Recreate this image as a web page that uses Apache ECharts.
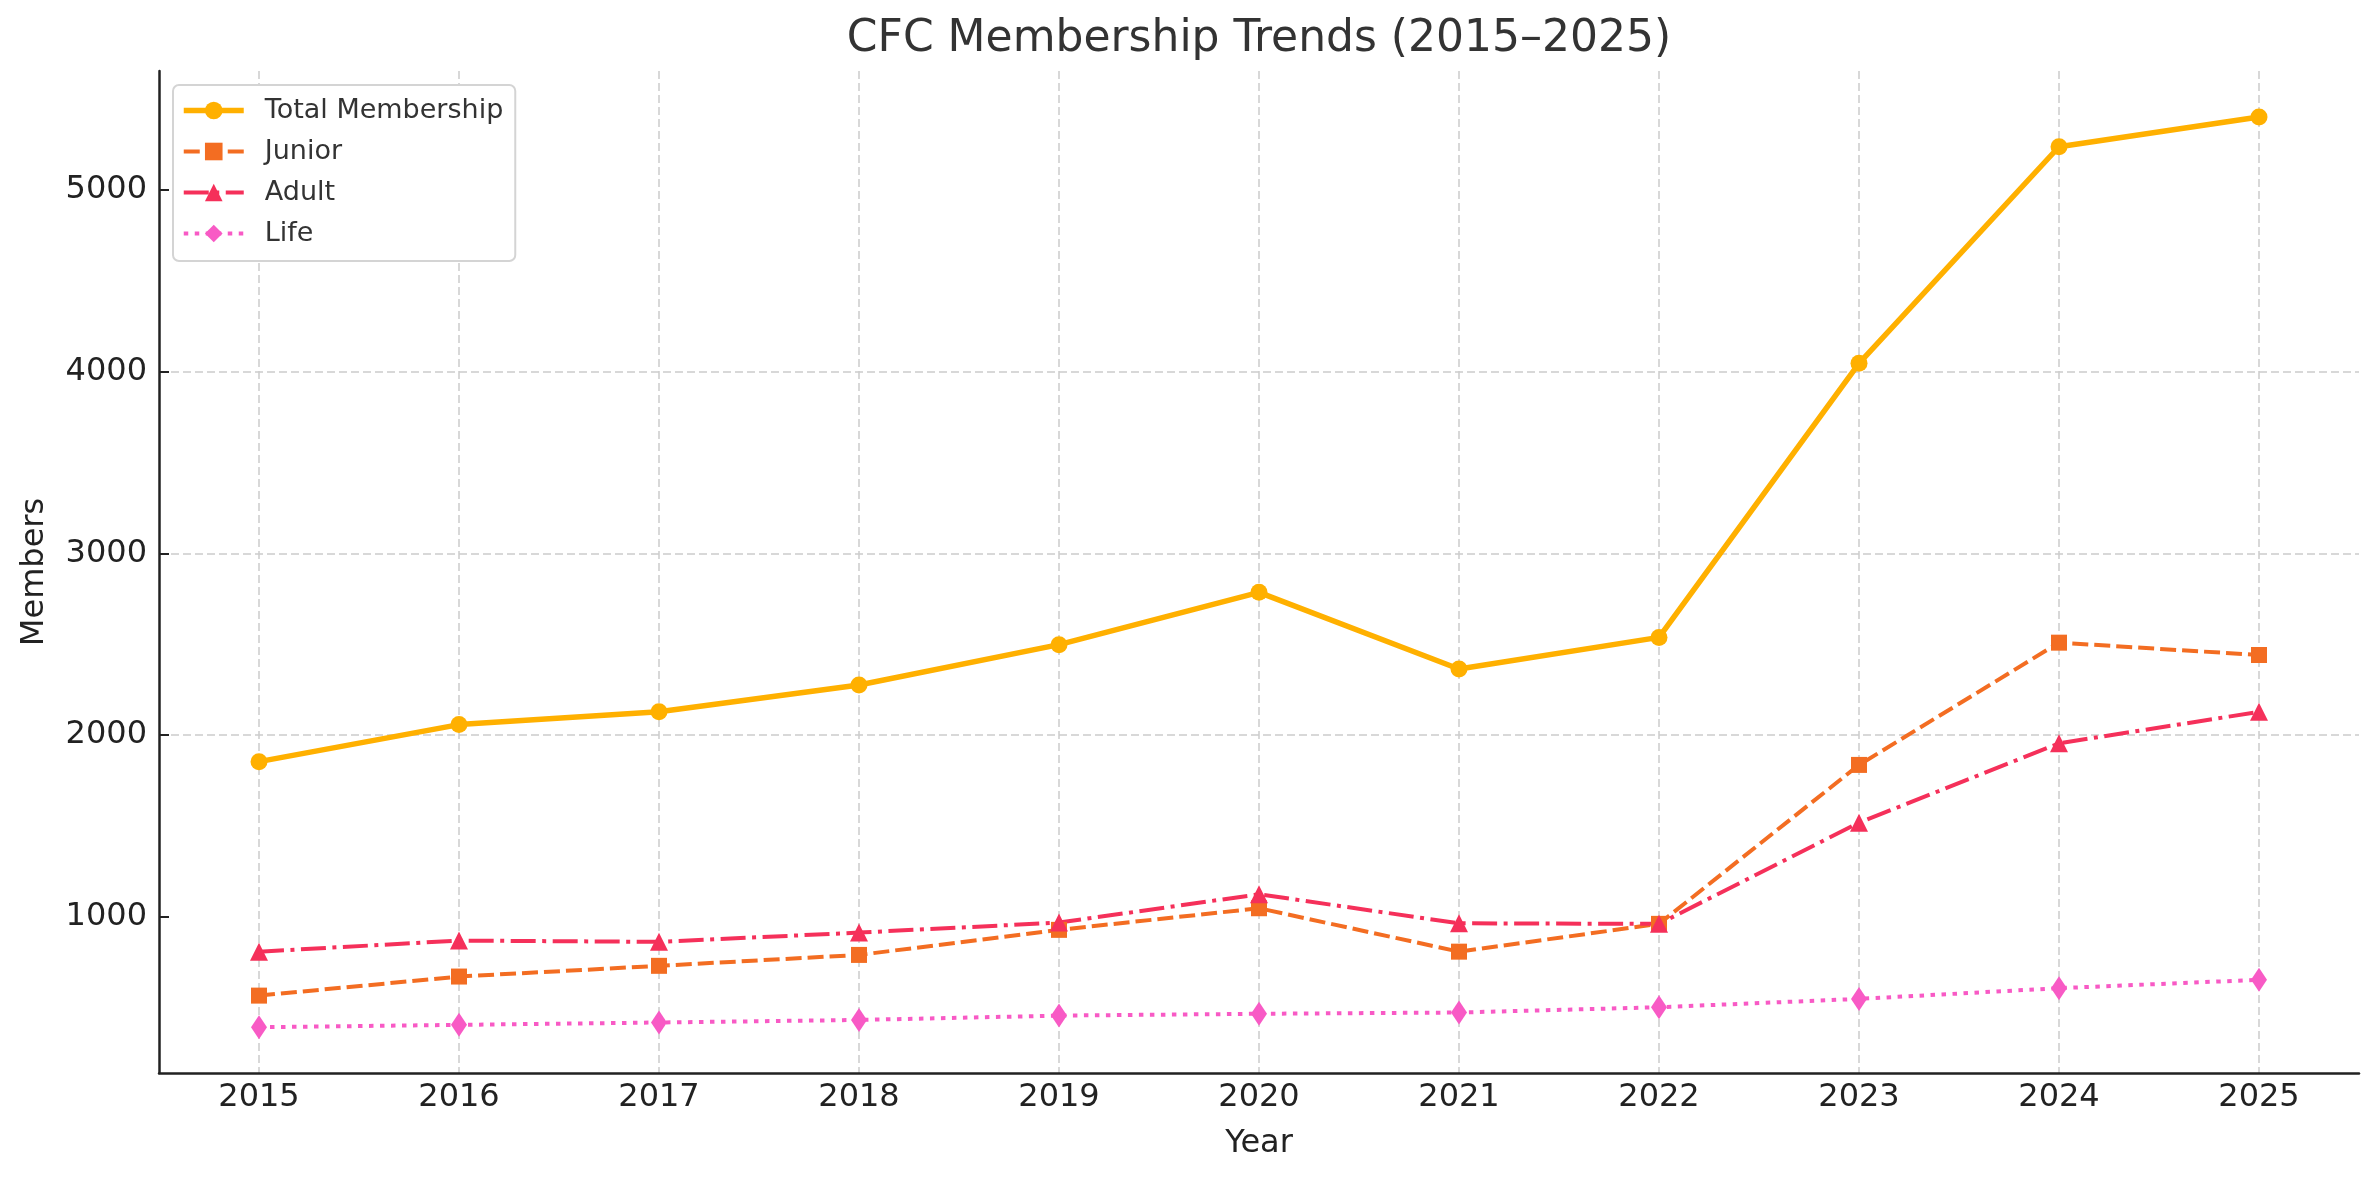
<!DOCTYPE html>
<html>
<head>
<meta charset="utf-8">
<title>CFC Membership Trends</title>
<script src="https://cdn.jsdelivr.net/npm/echarts@6/dist/echarts.min.js"></script>
<style>
	html, body {margin: 0; padding: 0; background: #fff;}
	#chart {width: 2379px; height: 1180px;}
</style>
</head>
<body>
<div id="chart"></div>
<script>
// 年份 (x轴)
var years = ['2015', '2016', '2017', '2018', '2019', '2020', '2021', '2022', '2023', '2024', '2025'];
// 各类会员数
var totalData = [1853, 2057, 2128, 2275, 2497, 2785, 2363, 2537, 4046, 5238, 5402];
var juniorData = [565, 670, 729, 789, 927, 1046, 807, 960, 1835, 2508, 2440];
var adultData = [807, 868, 861, 912, 967, 1123, 963, 960, 1517, 1954, 2127];
var lifeData = [391, 404, 417, 431, 455, 465, 472, 501, 547, 606, 652];
// y轴刻度
var yTicks = [1000, 2000, 3000, 4000, 5000];

var font = 'DejaVu Sans';
var gridLine = {color: '#cccccc', width: 1.5, type: [8, 4]};

var chart = echarts.init(document.getElementById('chart'));
var option = {
	animation: false,
	backgroundColor: '#ffffff',
	textStyle: {fontFamily: font},
	title: {
		text: 'CFC Membership Trends (2015\u20132025)',
		left: 1259,
		top: 18,
		textAlign: 'center',
		padding: 0,
		textStyle: {fontFamily: font, fontSize: 44, fontWeight: 'normal', color: '#333333'}
	},
	legend: {
		orient: 'vertical',
		left: 173,
		top: 85,
		padding: [12, 12, 14, 8],
		itemWidth: 60,
		itemHeight: 22,
		itemGap: 14,
		backgroundColor: '#ffffff',
		borderColor: '#d4d4d4',
		borderWidth: 2,
		borderRadius: 6,
		lineStyle: {width: 'inherit'},
		textStyle: {fontFamily: font, fontSize: 27, color: '#333333', padding: [0, 0, 0, 16]},
		data: ['Total Membership', 'Junior', 'Adult', 'Life']
	},
	grid: {left: 159, right: 20, top: 71, bottom: 107},
	xAxis: {
		type: 'category',
		data: years,
		boundaryGap: true,
		name: 'Year',
		nameLocation: 'middle',
		nameGap: 55,
		nameTextStyle: {fontFamily: font, fontSize: 32, color: '#222222'},
		axisLine: {lineStyle: {color: '#222222', width: 2.5}},
		axisTick: {alignWithLabel: true, inside: true, length: 10, lineStyle: {color: '#222222', width: 2}},
		axisLabel: {fontFamily: font, fontSize: 32, color: '#222222', margin: 9},
		splitLine: {show: true, alignWithLabel: true, lineStyle: gridLine}
	},
	yAxis: {
		type: 'value',
		min: 139,
		max: 5655,
		splitNumber: 5,
		minInterval: 1000,
		maxInterval: 1000,
		name: 'Members',
		nameLocation: 'middle',
		nameRotate: 90,
		nameGap: 108,
		nameTextStyle: {fontFamily: font, fontSize: 32, color: '#222222'},
		axisLine: {show: true, lineStyle: {color: '#222222', width: 2.5}},
		axisTick: {show: true, inside: true, length: 10, customValues: yTicks, lineStyle: {color: '#222222', width: 2}},
		axisLabel: {
			fontFamily: font, fontSize: 32, color: '#222222', margin: 12,
			showMinLabel: false, showMaxLabel: false,
			formatter: function (v) { return String(v); }
		},
		splitLine: {show: true, showMinLine: false, showMaxLine: false, lineStyle: gridLine}
	},
	series: [
		{
			name: 'Total Membership',
			type: 'line',
			data: totalData,
			symbol: 'circle',
			symbolSize: 17,
			color: '#FFB000',
			lineStyle: {width: 5.5, type: 'solid'}
		},
		{
			name: 'Junior',
			type: 'line',
			data: juniorData,
			symbol: 'rect',
			symbolSize: 16,
			color: '#F36D22',
			lineStyle: {width: 4, type: [16, 6]}
		},
		{
			name: 'Adult',
			type: 'line',
			data: adultData,
			symbol: 'triangle',
			symbolSize: 18,
			color: '#F5305A',
			lineStyle: {width: 4, type: [25, 6.5, 4, 6.5]}
		},
		{
			name: 'Life',
			type: 'line',
			data: lifeData,
			symbol: 'diamond',
			symbolSize: [16, 24],
			color: '#F85AC5',
			lineStyle: {width: 4, type: [4.5, 6.5]}
		}
	]
};
chart.setOption(option);
</script>
</body>
</html>
